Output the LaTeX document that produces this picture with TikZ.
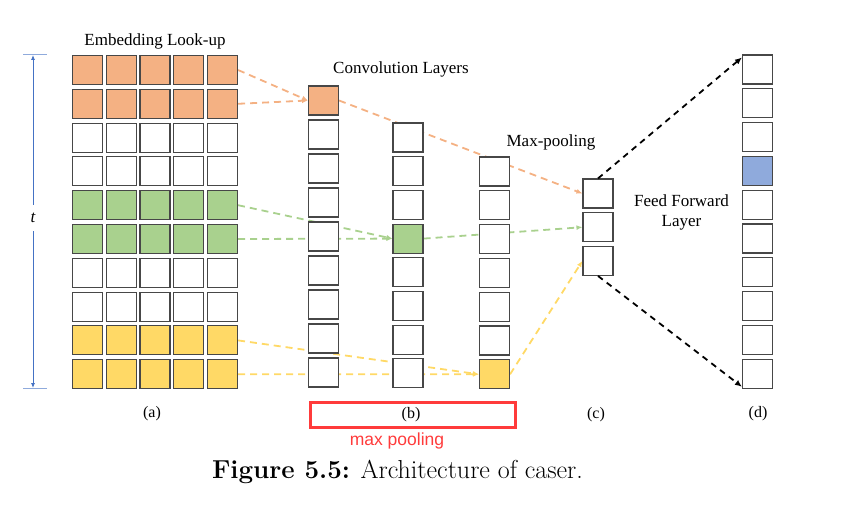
\documentclass[tikz,border=0pt]{standalone}
\usepackage{fontspec}
\newfontfamily\tms{Liberation Serif}
\newfontfamily\ars{Liberation Sans}
\usetikzlibrary{arrows.meta,backgrounds}
\definecolor{ora}{HTML}{F4B183}
\definecolor{grn}{HTML}{A9D18E}
\definecolor{yel}{HTML}{FFD966}
\definecolor{blu}{HTML}{8FAADC}
\definecolor{oraL}{HTML}{F4B183}
\definecolor{grnL}{HTML}{A9D18E}
\definecolor{yelL}{HTML}{FFD966}
\definecolor{tblue}{HTML}{4472C4}
\definecolor{tblueL}{HTML}{8FAADC}
\definecolor{redbox}{HTML}{FF3B3B}
\tikzset{
  cell/.style={draw=black!72, line width=1.1pt, minimum width=30pt, minimum height=29pt, inner sep=0pt, fill=white},
  conn/.style={line width=1.8pt, dash pattern=on 7pt off 5pt, -{Latex[length=6pt,width=5pt]}},
  blk/.style={black, line width=1.8pt, dash pattern=on 6pt off 5pt, -{Latex[length=7pt,width=6pt]}},
  lbl/.style={font=\tms\fontsize{16}{19}\selectfont, inner sep=0pt},
  ttl/.style={font=\tms\fontsize{17}{20}\selectfont, inner sep=0pt, anchor=base},
}
\begin{document}
\begin{tikzpicture}[x=1pt,y=-1pt]
\useasboundingbox (0,0) rectangle (841,519);
% (a) embedding grid
\foreach \i/\col in {0/ora,1/ora,2/white,3/white,4/grn,5/grn,6/white,7/white,8/yel,9/yel}
  \foreach \j in {0,...,4}
    \node[cell, fill=\col] (a-\i-\j) at ({87.5+33.75*\j},{70+33.8*\i}) {};
% (b) convolution columns
\foreach \i in {0,...,8}
  \node[cell] (b1-\i) at (323.5,{100.5+34*\i}) {};
\node[cell, fill=ora] at (b1-0) {};
\foreach \i in {0,...,7}
  \node[cell] (b2-\i) at (408,{137.5+33.7*\i}) {};
\node[cell, fill=grn] at (b2-3) {};
\foreach \i in {0,...,6}
  \node[cell] (b3-\i) at (494.5,{171.5+33.8*\i}) {};
\node[cell, fill=yel] at (b3-6) {};
% (c) max pooling
\foreach \i in {0,...,2}
  \node[cell] (c-\i) at (598,{193.5+33.7*\i}) {};
% (d) feed forward
\foreach \i in {0,...,9}
  \node[cell] (d-\i) at (757.5,{69.5+33.8*\i}) {};
\node[cell, fill=blu] at (d-3) {};

% connectors (behind cells)
\begin{scope}[on background layer]
\draw[conn, oraL] (a-0-4.east) -- (b1-0.west);
\draw[conn, oraL] (a-1-4.east) -- (b1-0.west);
\draw[conn, oraL] (b1-0.east) -- (c-0.west);
\draw[conn, grnL] (a-4-4.east) -- (b2-3.west);
\draw[conn, grnL] (a-5-4.east) -- (b2-3.west);
\draw[conn, grnL] (b2-3.east) -- (c-1.west);
\draw[conn, yelL] (a-8-4.east) -- (b3-6.west);
\draw[conn, yelL] (a-9-4.east) -- (b3-6.west);
\draw[conn, yelL] (b3-6.east) -- (c-2.west);
\end{scope}
\draw[blk] (c-0.north) -- ([yshift=-3pt]d-0.north west);
\draw[blk] (c-2.south) -- ([yshift=2pt]d-9.south west);

% t dimension
\coordinate (tt1) at (23,55);
\coordinate (tt2) at (47,55);
\coordinate (tb1) at (23,388);
\coordinate (tb2) at (47,388);
\coordinate (ttop) at (33,55);
\coordinate (tbot) at (33,388);
\draw[tblueL, line width=1pt] (tt1) -- (tt2);
\draw[tblueL, line width=1pt] (tb1) -- (tb2);
\node[font=\tms\itshape\fontsize{17}{19}\selectfont, inner sep=0pt, minimum height=26pt] (t) at (33,218) {t};
\draw[tblue, line width=0.8pt, -{Latex[length=5pt,width=4pt]}] (t.north) -- (ttop);
\draw[tblue, line width=0.8pt, -{Latex[length=5pt,width=4pt]}] (t.south) -- (tbot);

% titles
\node[ttl] (ttl-a) at (155,46) {Embedding Look-up};
\node[ttl] (ttl-b) at (401,73.5) {Convolution Layers};
\node[ttl] (ttl-c) at (551,146.5) {Max-pooling};
\node[ttl] (ttl-d1) at (681.5,206.5) {Feed Forward};
\node[ttl] (ttl-d2) at (681.5,226.5) {Layer};

% sub labels
\node[draw=redbox, line width=3pt, minimum width=205pt, minimum height=25pt, inner sep=0pt] (rbox) at (413,415) {};
\node[lbl] (la) at (152,414) {(a)};
\node[lbl] (lb) at (411,415) {(b)};
\node[lbl] (lc) at (596,415) {(c)};
\node[lbl] (ld) at (758,414) {(d)};
\node[font=\ars\fontsize{17.5}{20}\selectfont, text=redbox, inner sep=0pt] (mp) at (397,441) {max pooling};

% caption
\node[anchor=base, inner sep=0pt, font=\fontsize{26}{30}\selectfont] (cap) at (397.5,478) {\textbf{Figure 5.5:} Architecture of caser.};
\end{tikzpicture}
\end{document}
